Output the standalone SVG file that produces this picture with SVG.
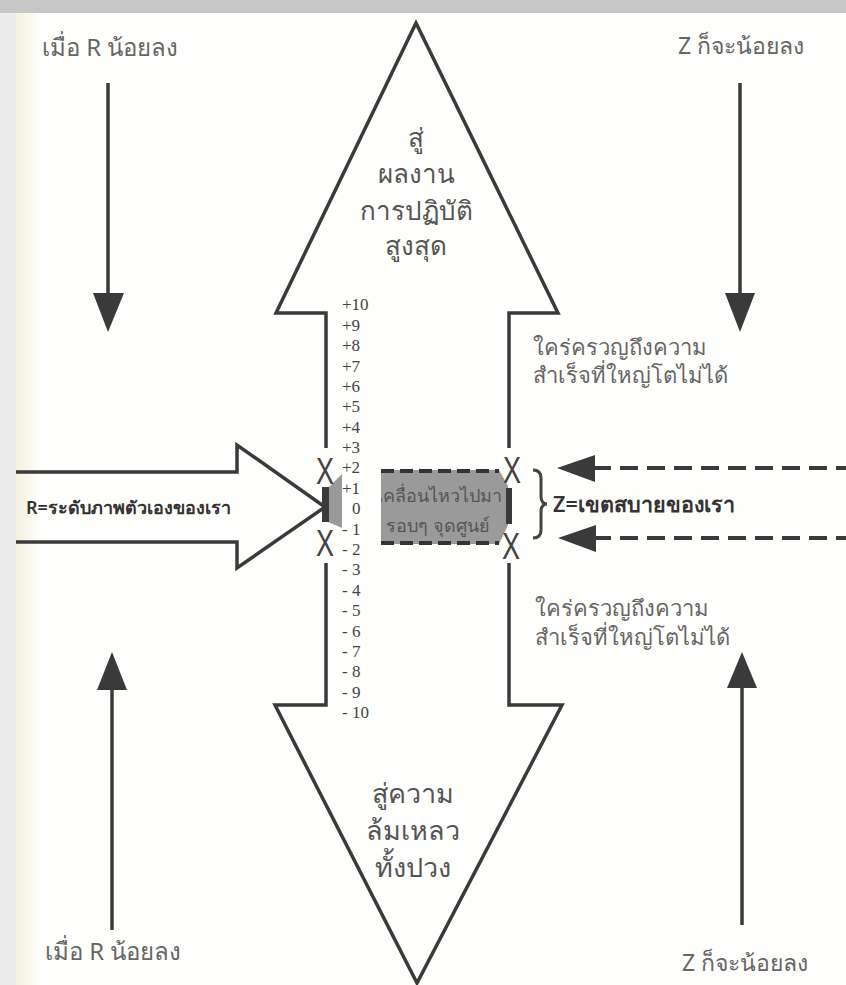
<svg xmlns="http://www.w3.org/2000/svg" width="846" height="985" viewBox="0 0 846 985">
<defs>
<linearGradient id="cream" x1="0" y1="0" x2="1" y2="0">
<stop offset="0" stop-color="#f4f1de"/>
<stop offset="1" stop-color="#fefefc"/>
</linearGradient>
<clipPath id="boxclip"><polygon points="381,470 499,470 508,486 508,525 499,544 381,544"/></clipPath>
<style>
.ol{fill:none;stroke:#3a3a3a;stroke-width:3.5;stroke-linejoin:miter}
.ln{stroke:#3a3a3a;stroke-width:3.5}
.hd{fill:#3a3a3a}
.dash{stroke:#3a3a3a;stroke-width:4;stroke-dasharray:18 9}
.th{font-family:"Noto Sans","DejaVu Sans",sans-serif;fill:#666;font-size:22px}
.th24{font-size:24px}
.th23{font-size:23px}
.big{font-family:"Noto Sans","DejaVu Sans",sans-serif;fill:#555;font-size:26px;text-anchor:middle}
.big27{font-size:27px}
.lbl{font-family:"Noto Sans","DejaVu Sans",sans-serif;fill:#333;font-weight:600}
.num{font-family:"Liberation Serif",serif;fill:#444;font-size:17px}
.x{font-family:"Liberation Sans",sans-serif;fill:#444;font-size:36px;text-anchor:middle}
.box{font-family:"Noto Sans","DejaVu Sans",sans-serif;fill:#555;font-size:18px}
</style>
</defs>
<rect width="846" height="985" fill="#fefefc"/>
<rect x="16" y="13" width="24" height="972" fill="url(#cream)"/>
<rect x="0" y="0" width="16" height="985" fill="#ebebeb"/>
<rect x="0" y="0" width="846" height="13" fill="#c6c6c6"/>

<g id="connectors">
<polyline class="ol" points="326,448 326,313 276,313 416,23 558,313 509,313 509,448"/>
<polyline class="ol" points="326,563 326,705 275,705 417,983 562,705 509,705 509,563"/>
<line class="ln" x1="108" y1="83" x2="108" y2="296"/>
<polygon class="hd" points="93,293 124,293 108,332"/>
<line class="ln" x1="740" y1="83" x2="740" y2="296"/>
<polygon class="hd" points="725,293 755,293 740,332"/>
<line class="ln" x1="112" y1="930" x2="112" y2="686"/>
<polygon class="hd" points="97,690 127,690 112,652"/>
<line class="ln" x1="742" y1="925" x2="742" y2="684"/>
<polygon class="hd" points="727,688 757,688 742,652"/>
<line class="dash" x1="593" y1="468" x2="846" y2="468"/>
<polygon class="hd" points="557,468 595,455 595,482"/>
<line class="dash" x1="593" y1="538" x2="846" y2="538"/>
<polygon class="hd" points="558,538 596,525 596,552"/>
</g>

<g id="node-top-arrow">
<text class="big" x="416" y="147">สู่</text>
<text class="big" x="416" y="183">ผลงาน</text>
<text class="big" x="416" y="220">การปฏิบัติ</text>
<text class="big" x="416" y="255">สูงสุด</text>
</g>

<g id="node-bottom-arrow">
<text class="big big27" x="413" y="803">สู่ความ</text>
<text class="big big27" x="413" y="840">ล้มเหลว</text>
<text class="big big27" x="413" y="877">ทั้งปวง</text>
</g>

<g id="node-scale">
<text class="num" x="342" y="310">+10</text>
<text class="num" x="342" y="331">+9</text>
<text class="num" x="342" y="351">+8</text>
<text class="num" x="342" y="372">+7</text>
<text class="num" x="342" y="392">+6</text>
<text class="num" x="342" y="412">+5</text>
<text class="num" x="342" y="433">+4</text>
<text class="num" x="342" y="453">+3</text>
<text class="num" x="342" y="473">+2</text>
<text class="num" x="342" y="494">+1</text>
<text class="num" x="352" y="514">0</text>
<text class="num" x="342" y="535">- 1</text>
<text class="num" x="342" y="555">- 2</text>
<text class="num" x="342" y="575">- 3</text>
<text class="num" x="342" y="596">- 4</text>
<text class="num" x="342" y="616">- 5</text>
<text class="num" x="342" y="637">- 6</text>
<text class="num" x="342" y="657">- 7</text>
<text class="num" x="342" y="677">- 8</text>
<text class="num" x="342" y="698">- 9</text>
<text class="num" x="342" y="718">- 10</text>
</g>

<g id="node-r-arrow">
<polyline class="ol" points="16,472 237,472 237,445 325,507 237,568 237,542 16,542"/>
<text class="lbl" x="26" y="514" font-size="18">R=ระดับภาพตัวเองของเรา</text>
</g>

<g id="node-comfort-zone">
<polygon points="328,488 342,474 342,528 328,522" fill="#9a9a9a"/>
<rect x="322" y="487" width="7" height="35" fill="#3a3a3a"/>
<polygon points="381,470 499,470 508,486 508,525 499,544 381,544" fill="#9a9a9a"/>
<rect x="506" y="488" width="6" height="36" fill="#3a3a3a"/>
<line x1="381" y1="471" x2="499" y2="471" stroke="#333" stroke-width="4" stroke-dasharray="13 6"/>
<line x1="381" y1="543" x2="499" y2="543" stroke="#333" stroke-width="4" stroke-dasharray="13 6"/>
<g clip-path="url(#boxclip)">
<text class="box" x="377" y="502">เคลื่อนไหวไปมา</text>
<text class="box" x="386" y="532">รอบๆ  จุดศูนย์</text>
</g>
<text class="x" x="325" y="484" textLength="18" lengthAdjust="spacingAndGlyphs">X</text>
<text class="x" x="325" y="556" textLength="18" lengthAdjust="spacingAndGlyphs">X</text>
<text class="x" x="512" y="483" textLength="18" lengthAdjust="spacingAndGlyphs">X</text>
<text class="x" x="511" y="559" textLength="18" lengthAdjust="spacingAndGlyphs">X</text>
</g>

<g id="node-z-label">
<path d="M533,470 q8,0 8,8 v18 q0,8 6,8 q-6,0 -6,8 v18 q0,8 -8,8" fill="none" stroke="#444" stroke-width="3"/>
<text class="lbl" x="553" y="512" font-size="21.5">Z=เขตสบายของเรา</text>
</g>

<g id="node-labels">
<text class="th th24" x="42" y="56">เมื่อ R น้อยลง</text>
<text class="th th23" x="678" y="54">Z ก็จะน้อยลง</text>
<text class="th th24" x="45" y="960">เมื่อ R น้อยลง</text>
<text class="th th23" x="682" y="971">Z ก็จะน้อยลง</text>
<text class="th" x="533" y="355">ใคร่ครวญถึงความ</text>
<text class="th" x="533" y="383">สำเร็จที่ใหญ่โตไม่ได้</text>
<text class="th" x="535" y="616">ใคร่ครวญถึงความ</text>
<text class="th" x="535" y="645">สำเร็จที่ใหญ่โตไม่ได้</text>
</g>
</svg>
